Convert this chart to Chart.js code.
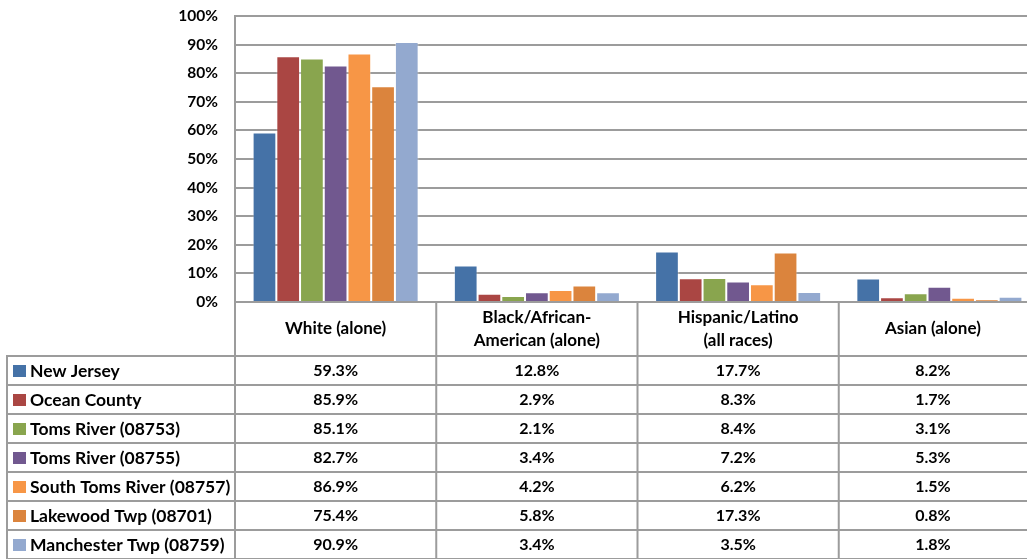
<!DOCTYPE html>
<html>
<head>
<meta charset="utf-8">
<script src="https://cdn.jsdelivr.net/npm/chart.js@4/dist/chart.umd.min.js"></script>
<style>
  html, body { margin: 0; padding: 0; background: #fff; overflow: hidden; width: 1027px; height: 559px; }
  #wrap { width: 1040px; height: 559px; }
</style>
</head>
<body>
<div id="wrap"><canvas id="raceChart" width="1040" height="559"></canvas></div>
<script>
// categories (table header, two lines where Excel wrapped them)
const categories = [
    'White (alone)',
    ['Black/African-', 'American (alone)'],
    ['Hispanic/Latino', '(all races)'],
    'Asian (alone)'
];

const seriesNames = [
    'New Jersey',
    'Ocean County',
    'Toms River (08753)',
    'Toms River (08755)',
    'South Toms River (08757)',
    'Lakewood Twp (08701)',
    'Manchester Twp (08759)'
];

const newJersey      = [59.3, 12.8, 17.7, 8.2];
const oceanCounty    = [85.9, 2.9, 8.3, 1.7];
const tomsRiver08753 = [85.1, 2.1, 8.4, 3.1];
const tomsRiver08755 = [82.7, 3.4, 7.2, 5.3];
const southTomsRiver = [86.9, 4.2, 6.2, 1.5];
const lakewoodTwp    = [75.4, 5.8, 17.3, 0.8];
const manchesterTwp  = [90.9, 3.4, 3.5, 1.8];

const seriesValues = [newJersey, oceanCounty, tomsRiver08753, tomsRiver08755, southTomsRiver, lakewoodTwp, manchesterTwp];

const seriesColors = ['#4572A7', '#AA4643', '#89A54E', '#71588F', '#F79646', '#DB843D', '#93A9CF'];

const yMin = 0, yMax = 100, yStep = 10;

const FONT = 'Lato, "Liberation Sans", sans-serif';
const LINE = '#9c9c9c';

/* ============================= */
/* Data table under the plot     */
/* ============================= */

const dataTable = {
    id: 'dataTable',
    afterDraw(chart) {
        const ctx = chart.ctx;
        const xs = chart.scales.x;
        const area = chart.chartArea;
        const n = categories.length;
        const colW = (area.right - area.left) / n;
        const edges = [];
        for (let i = 0; i < n; i++) edges.push(xs.getPixelForValue(i) - colW / 2);
        edges.push(edges[n - 1] + colW);

        const viewRight = 1027;
        const tableLeft = 7;
        const headTop = area.bottom;
        const headBottom = area.bottom + 54;
        const rowH = 29;
        const bottom = chart.height;

        ctx.save();
        ctx.strokeStyle = LINE;
        ctx.lineWidth = 2;
        ctx.beginPath();
        edges.forEach(x => { ctx.moveTo(x, headTop); ctx.lineTo(x, bottom); });
        ctx.moveTo(tableLeft, headBottom); ctx.lineTo(tableLeft, bottom);
        for (let r = 0; r <= seriesNames.length; r++) {
            const y = headBottom + r * rowH;
            ctx.moveTo(tableLeft - 1, y); ctx.lineTo(edges[n], y);
        }
        ctx.stroke();

        ctx.fillStyle = '#000';
        ctx.textBaseline = 'middle';
        ctx.textAlign = 'center';

        // header
        ctx.font = 'bold 17px ' + FONT;
        categories.forEach((c, i) => {
            const cx = (edges[i] + Math.min(edges[i + 1], viewRight)) / 2;
            const lines = Array.isArray(c) ? c : [c];
            const mid = (headTop + headBottom) / 2;
            lines.forEach((t, k) => {
                ctx.fillText(t, cx, mid + (k - (lines.length - 1) / 2) * 23);
            });
        });

        // rows
        seriesNames.forEach((name, r) => {
            const cy = headBottom + r * rowH + rowH / 2 + 0.5;
            ctx.fillStyle = seriesColors[r];
            ctx.fillRect(13, cy - 6, 13, 12);
            ctx.fillStyle = '#000';
            ctx.textAlign = 'left';
            ctx.font = 'bold 17.5px ' + FONT;
            ctx.fillText(name, 30, cy);
            ctx.textAlign = 'center';
            ctx.font = 'bold 16px ' + FONT;
            seriesValues[r].forEach((v, i) => {
                const cx = (edges[i] + Math.min(edges[i + 1], viewRight)) / 2;
                ctx.fillText(v.toFixed(1) + '%', cx, cy);
            });
        });
        ctx.restore();
    }
};

const ctx = document.getElementById('raceChart').getContext('2d');

new Chart(ctx, {
    type: 'bar',
    data: {
        labels: categories,
        datasets: seriesNames.map((name, i) => ({
            label: name,
            data: seriesValues[i],
            backgroundColor: seriesColors[i],
            borderColor: 'rgba(255,255,255,0.35)',
            borderWidth: 1,
            categoryPercentage: 0.825,
            barPercentage: 1
        }))
    },
    options: {
        responsive: false,
        animation: false,
        devicePixelRatio: 1,
        layout: { padding: { left: 0, right: 0, top: 16, bottom: 257 } },
        plugins: {
            legend: { display: false },
            tooltip: { enabled: false }
        },
        scales: {
            x: {
                grid: { display: false, drawTicks: false },
                ticks: { display: false },
                border: { display: true, color: LINE, width: 2 },
                afterFit: s => { s.height = 0; }
            },
            y: {
                min: yMin,
                max: yMax,
                // invisible tick marks push the labels off the axis
                grid: { color: LINE, lineWidth: 2, drawTicks: true, tickLength: 17, tickColor: 'rgba(0,0,0,0)' },
                border: { display: true, color: LINE, width: 2 },
                ticks: {
                    stepSize: yStep,
                    padding: 0,
                    color: '#000',
                    font: { family: FONT, size: 15.5, weight: 'bold' },
                    callback: v => v + '%'
                },
                afterFit: s => { s.width = 235; }
            }
        }
    },
    plugins: [dataTable]
});
</script>
</body>
</html>
